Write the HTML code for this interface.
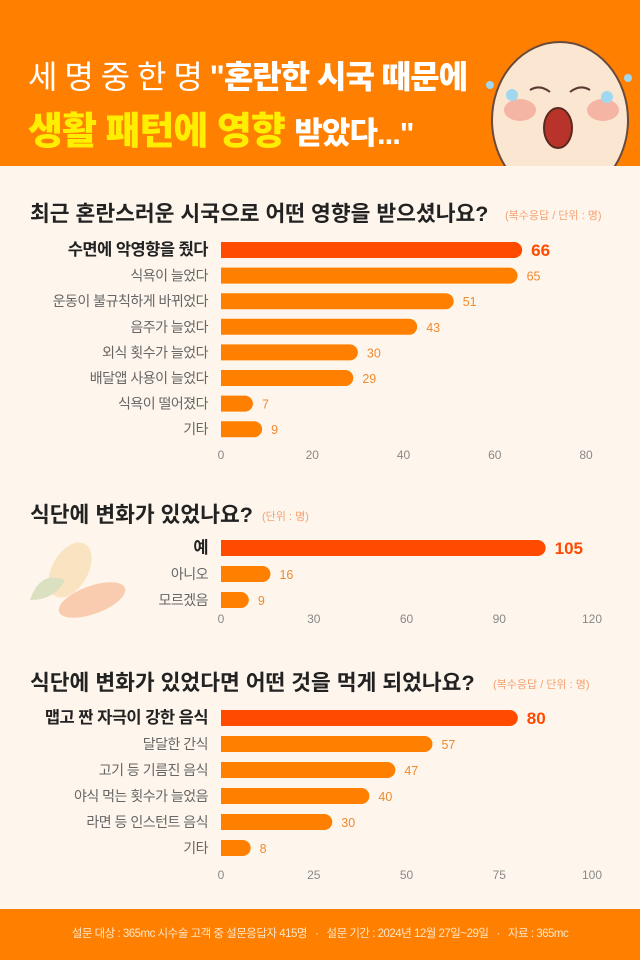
<!DOCTYPE html>
<html><head><meta charset="utf-8"><style>
body{margin:0;width:640px;height:960px;overflow:hidden;background:#fef6ec;font-family:"Liberation Sans","Noto Sans CJK KR",sans-serif;position:relative}
.hdr{position:absolute;left:0;top:0;width:640px;height:166px;background:#ff7f00}
.l1{position:absolute;left:28px;top:52px;font-size:32px;color:#fff;white-space:nowrap;letter-spacing:-1px}
.l1 b{font-weight:900}
.l2{position:absolute;left:28px;top:100px;font-size:38px;font-weight:900;color:#ffee00;white-space:nowrap;letter-spacing:-1px}
.l2 span{color:#fff;font-size:31px}
.ftr{position:absolute;left:0;top:909px;width:640px;height:51px;background:#ff7f00;color:#ffe6c8;font-size:11.5px;text-align:center;line-height:51px;letter-spacing:-0.5px}
svg{position:absolute;left:0;top:0}
</style></head><body>
<div class="hdr">
<div class="l1">세 명 중 한 명 <b>"혼란한 시국 때문에</b></div>
<div class="l2">생활 패턴에 영향 <span>받았다..."</span></div>
<svg width="640" height="166">
<ellipse cx="560" cy="120" rx="68" ry="78" fill="#fbe6d2" stroke="#6a4a3a" stroke-width="2"/>
<ellipse cx="520" cy="110" rx="16" ry="11" fill="#f5b5a5"/><ellipse cx="603" cy="110" rx="16" ry="11" fill="#f5b5a5"/>
<ellipse cx="558" cy="128" rx="14" ry="20" fill="#b8342a" stroke="#5a2a20" stroke-width="2"/>
<path d="M530 90 q10 -6 20 2 M570 92 q10 -8 20 -2" stroke="#5a3a30" stroke-width="2" fill="none"/>
<circle cx="512" cy="95" r="6" fill="#9fd8ef"/><circle cx="607" cy="97" r="6" fill="#9fd8ef"/><circle cx="490" cy="85" r="4" fill="#9fd8ef"/><circle cx="628" cy="78" r="4" fill="#9fd8ef"/>
</svg>
</div>
<svg id="ch" width="640" height="960">
<text x="30" y="221" font-size="21.5" font-weight="bold" fill="#222">최근 혼란스러운 시국으로 어떤 영향을 받으셨나요?</text>
<text x="505" y="219" font-size="11" fill="#f5a070">(복수응답 / 단위 : 명)</text>
<text x="30" y="522" font-size="21.5" font-weight="bold" fill="#222">식단에 변화가 있었나요?</text>
<text x="262" y="520" font-size="11" fill="#f5a070">(단위 : 명)</text>
<text x="30" y="690" font-size="21.5" font-weight="bold" fill="#222">식단에 변화가 있었다면 어떤 것을 먹게 되었나요?</text>
<text x="493" y="688" font-size="11" fill="#f5a070">(복수응답 / 단위 : 명)</text>
<g opacity="0.35">
<ellipse cx="70" cy="570" rx="18" ry="30" fill="#f5c070" transform="rotate(30 70 570)"/>
<ellipse cx="92" cy="600" rx="35" ry="14" fill="#f08040" transform="rotate(-20 92 600)"/>
<path d="M30 600 q10 -30 35 -20 q-10 20 -35 20z" fill="#9ab870"/>
</g>
</svg>
<div class="ftr">설문 대상 : 365mc 시수술 고객 중 설문응답자 415명 &nbsp; · &nbsp; 설문 기간 : 2024년 12월 27일~29일 &nbsp; · &nbsp; 자료 : 365mc</div>
<script>
const c1Cats=["수면에 악영향을 줬다","식욕이 늘었다","운동이 불규칙하게 바뀌었다","음주가 늘었다","외식 횟수가 늘었다","배달앱 사용이 늘었다","식욕이 떨어졌다","기타"];
const c1Vals=[66,65,51,43,30,29,7,9];
const c1Ticks=[0,20,40,60,80];
const c2Cats=["예","아니오","모르겠음"];
const c2Vals=[105,16,9];
const c2Ticks=[0,30,60,90,120];
const c3Cats=["맵고 짠 자극이 강한 음식","달달한 간식","고기 등 기름진 음식","야식 먹는 횟수가 늘었음","라면 등 인스턴트 음식","기타"];
const c3Vals=[80,57,47,40,30,8];
const c3Ticks=[0,25,50,75,100];
const svg=document.getElementById('ch');const NS="http://www.w3.org/2000/svg";
function mk(t,a,txt){const e=document.createElementNS(NS,t);for(const k in a)e.setAttribute(k,a[k]);if(txt!==undefined)e.textContent=txt;svg.appendChild(e);return e;}
function chart(id,cats,vals,ticks,y0,step,tickY,x1){
  const max=ticks[ticks.length-1];const x=v=>221+v/max*(x1-221);
  cats.forEach((c,i)=>{const cy=y0+i*step;const hi=i===0;const w=Math.max(x(vals[i])-221,8);
    const b=mk('path',{d:`M221 ${cy-8}h${w-8}a8 8 0 0 1 0 16h${-(w-8)}z`,fill:hi?'#ff4a00':'#ff8000'});
    
    
    const l=mk('text',{x:208,y:cy+5,'text-anchor':'end','font-size':hi?16.5:14,'font-weight':hi?'bold':'normal',fill:hi?'#222':'#666','letter-spacing':'-0.5'},c);
    
    
    const v=mk('text',{x:221+w+9,y:cy+(hi?6:5),'font-size':hi?17:12.5,'font-weight':hi?'bold':'normal',fill:hi?'#ff4a00':'#f08a30'},vals[i]);
    
    
  });
  ticks.forEach(t=>{const e=mk('text',{x:x(t),y:tickY,'text-anchor':'middle','font-size':12,fill:'#888'},t);
    
    });
}
chart('chart1',c1Cats,c1Vals,c1Ticks,250,25.6,459,586);
chart('chart2',c2Cats,c2Vals,c2Ticks,548,26,623,592);
chart('chart3',c3Cats,c3Vals,c3Ticks,718,26,879,592);
</script>
</body></html>
